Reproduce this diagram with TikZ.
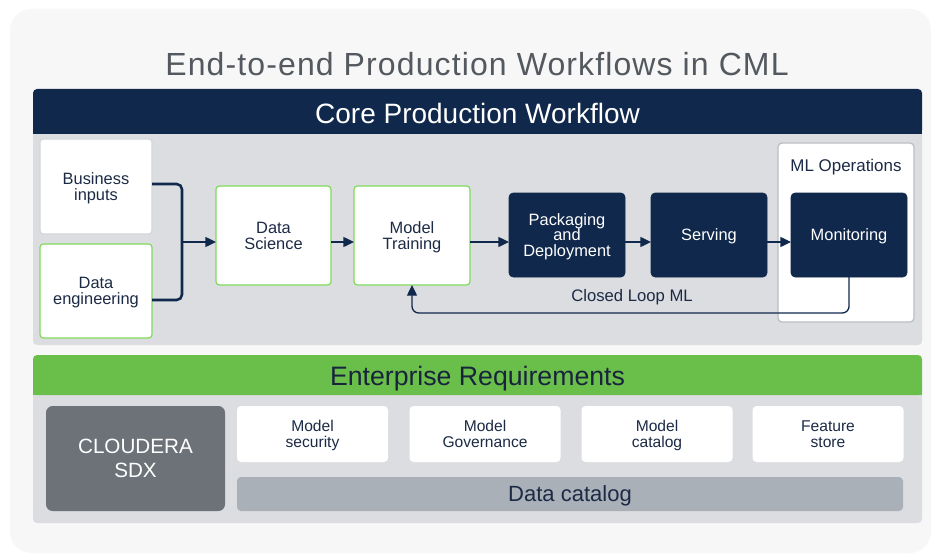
\documentclass[tikz,border=0pt]{standalone}
\usepackage{fontspec}
\setmainfont{Liberation Sans}
\newfontfamily\titlefont[LetterSpace=3.5]{Liberation Sans}
\usetikzlibrary{arrows.meta}
\definecolor{outerbg}{HTML}{F7F7F7}
\definecolor{navy}{HTML}{10284B}
\definecolor{panelgray}{HTML}{DCDDE0}
\definecolor{lightgreen}{HTML}{80DA5C}
\definecolor{entgreen}{HTML}{6ABF4B}
\definecolor{sdxgray}{HTML}{6D7278}
\definecolor{catgray}{HTML}{AAB0B8}
\definecolor{titlegray}{HTML}{54595F}
\definecolor{boxtext}{HTML}{1C2A45}
\definecolor{opsborder}{HTML}{B9BDC3}
\definecolor{bizborder}{HTML}{D3D5D8}
\tikzset{
  panel/.style={inner sep=0pt, outer sep=0pt},
  whitebox/.style={draw=bizborder, fill=white, line width=0.9pt, rounded corners=2.5pt,
    align=center, text=boxtext, font=\fontsize{12.3}{12}\selectfont, inner sep=0pt, outer sep=0pt, text depth=-1.5pt},
  greenbox/.style={whitebox, draw=lightgreen},
  navybox/.style={fill=navy, draw=navy, rounded corners=3pt, align=center, text=white,
    font=\fontsize{12.3}{11.7}\selectfont, inner sep=0pt, outer sep=0pt, text depth=-1.5pt},
  reqbox/.style={fill=white, rounded corners=3pt, align=center, text=boxtext,
    font=\fontsize{11.7}{11.5}\selectfont, inner sep=0pt, outer sep=0pt, text depth=-1.5pt},
  flowarrow/.style={draw=navy, line width=1pt, -{Triangle[length=8pt,width=7.5pt]}},
  bracketline/.style={draw=navy, line width=1.9pt, rounded corners=4pt},
  loopline/.style={draw=navy, line width=1pt, rounded corners=5pt, -{Triangle[length=8pt,width=7.5pt]}},
}
\begin{document}
\begin{tikzpicture}[x=0.75pt,y=-0.75pt]
\useasboundingbox[fill=white] (0,0) rectangle (934,556);
% outer panel
\fill[outerbg, rounded corners=16pt] (10,9) rectangle (931,553);
\node[panel, text=titlegray, font=\titlefont\fontsize{24}{24}\selectfont] (title) at (477,64) {End-to-end Production Workflows in CML};
% core production workflow
\fill[panelgray, rounded corners=3pt] (33,120) rectangle (922,345);
\fill[navy, rounded corners=3pt] (33,89) rectangle (922,134);
\fill[navy] (33,120) rectangle (922,134);
\node[panel, text=white, font=\fontsize{21}{21}\selectfont] (core) at (477.5,113) {Core Production Workflow};
% boxes
\node[whitebox, minimum width=112*0.75pt, minimum height=95*0.75pt] (bi) at (96,186.5) {Business\\inputs};
\node[greenbox, minimum width=112*0.75pt, minimum height=94*0.75pt] (de) at (96,291) {Data\\engineering};
\node[greenbox, minimum width=115*0.75pt, minimum height=99*0.75pt] (ds) at (273.5,235.5) {Data\\Science};
\node[greenbox, minimum width=116*0.75pt, minimum height=99*0.75pt] (mt) at (412,235.5) {Model\\Training};
\node[navybox, minimum width=116*0.75pt, minimum height=84*0.75pt] (pd) at (567,235) {Packaging\\and\\Deployment};
\node[navybox, minimum width=116*0.75pt, minimum height=84*0.75pt] (sv) at (709,235) {Serving};
\node[draw=opsborder, fill=white, line width=0.9pt, rounded corners=3pt, inner sep=0pt,
  minimum width=136*0.75pt, minimum height=179*0.75pt] (ops) at (846,232.5) {};
\node[panel, text=boxtext, font=\fontsize{12.7}{12.7}\selectfont] (opslabel) at (846,167) {ML Operations};
\node[navybox, minimum width=116*0.75pt, minimum height=84*0.75pt] (mo) at (849,235) {Monitoring};
% connectors
\coordinate (arrowy) at (0,242);
\coordinate (by1) at (0,184);
\coordinate (by2) at (0,300);
\coordinate (bk) at (182,242);
\draw[bracketline] (bi.east |- by1) -| (bk) |- (de.east |- by2);
\draw[flowarrow] (bk) -- (ds.west |- arrowy);
\draw[flowarrow] (ds.east |- arrowy) -- (mt.west |- arrowy);
\draw[flowarrow] (mt.east |- arrowy) -- (pd.west |- arrowy);
\draw[flowarrow] (pd.east |- arrowy) -- (sv.west |- arrowy);
\draw[flowarrow] (sv.east |- arrowy) -- (mo.west |- arrowy);
\coordinate (loopy) at (630,313);
\draw[loopline] (mo.south) |- (loopy) -| (mt.south);
\node[panel, text=boxtext, font=\fontsize{12.5}{12.5}\selectfont] (looplabel) at (632,297) {Closed Loop ML};
% enterprise requirements
\fill[panelgray, rounded corners=3pt] (33,380) rectangle (922,523);
\fill[entgreen, rounded corners=3pt] (33,355) rectangle (922,395);
\fill[entgreen] (33,385) rectangle (922,395);
\node[panel, text=boxtext!85!black, font=\fontsize{20}{20}\selectfont] (ent) at (477.5,379) {Enterprise Requirements};
\node[fill=sdxgray, rounded corners=5pt, inner sep=0pt, align=center, text=white,
  font=\fontsize{15.5}{18.5}\selectfont, minimum width=179*0.75pt, minimum height=105*0.75pt] (sdx) at (135.5,458.5) {CLOUDERA\\SDX};
\node[reqbox, minimum width=151*0.75pt, minimum height=56*0.75pt] (ms) at (312.5,434) {Model\\security};
\node[reqbox, minimum width=151*0.75pt, minimum height=56*0.75pt] (mg) at (485,434) {Model\\Governance};
\node[reqbox, minimum width=151*0.75pt, minimum height=56*0.75pt] (mc) at (657,434) {Model\\catalog};
\node[reqbox, minimum width=151*0.75pt, minimum height=56*0.75pt] (fs) at (828,434) {Feature\\store};
\node[fill=catgray, rounded corners=3pt, inner sep=0pt, text=boxtext, text depth=0pt,
  font=\fontsize{16.5}{16.5}\selectfont, minimum width=666*0.75pt, minimum height=34*0.75pt] (dc) at (570,494) {Data catalog};
\end{tikzpicture}
\end{document}
